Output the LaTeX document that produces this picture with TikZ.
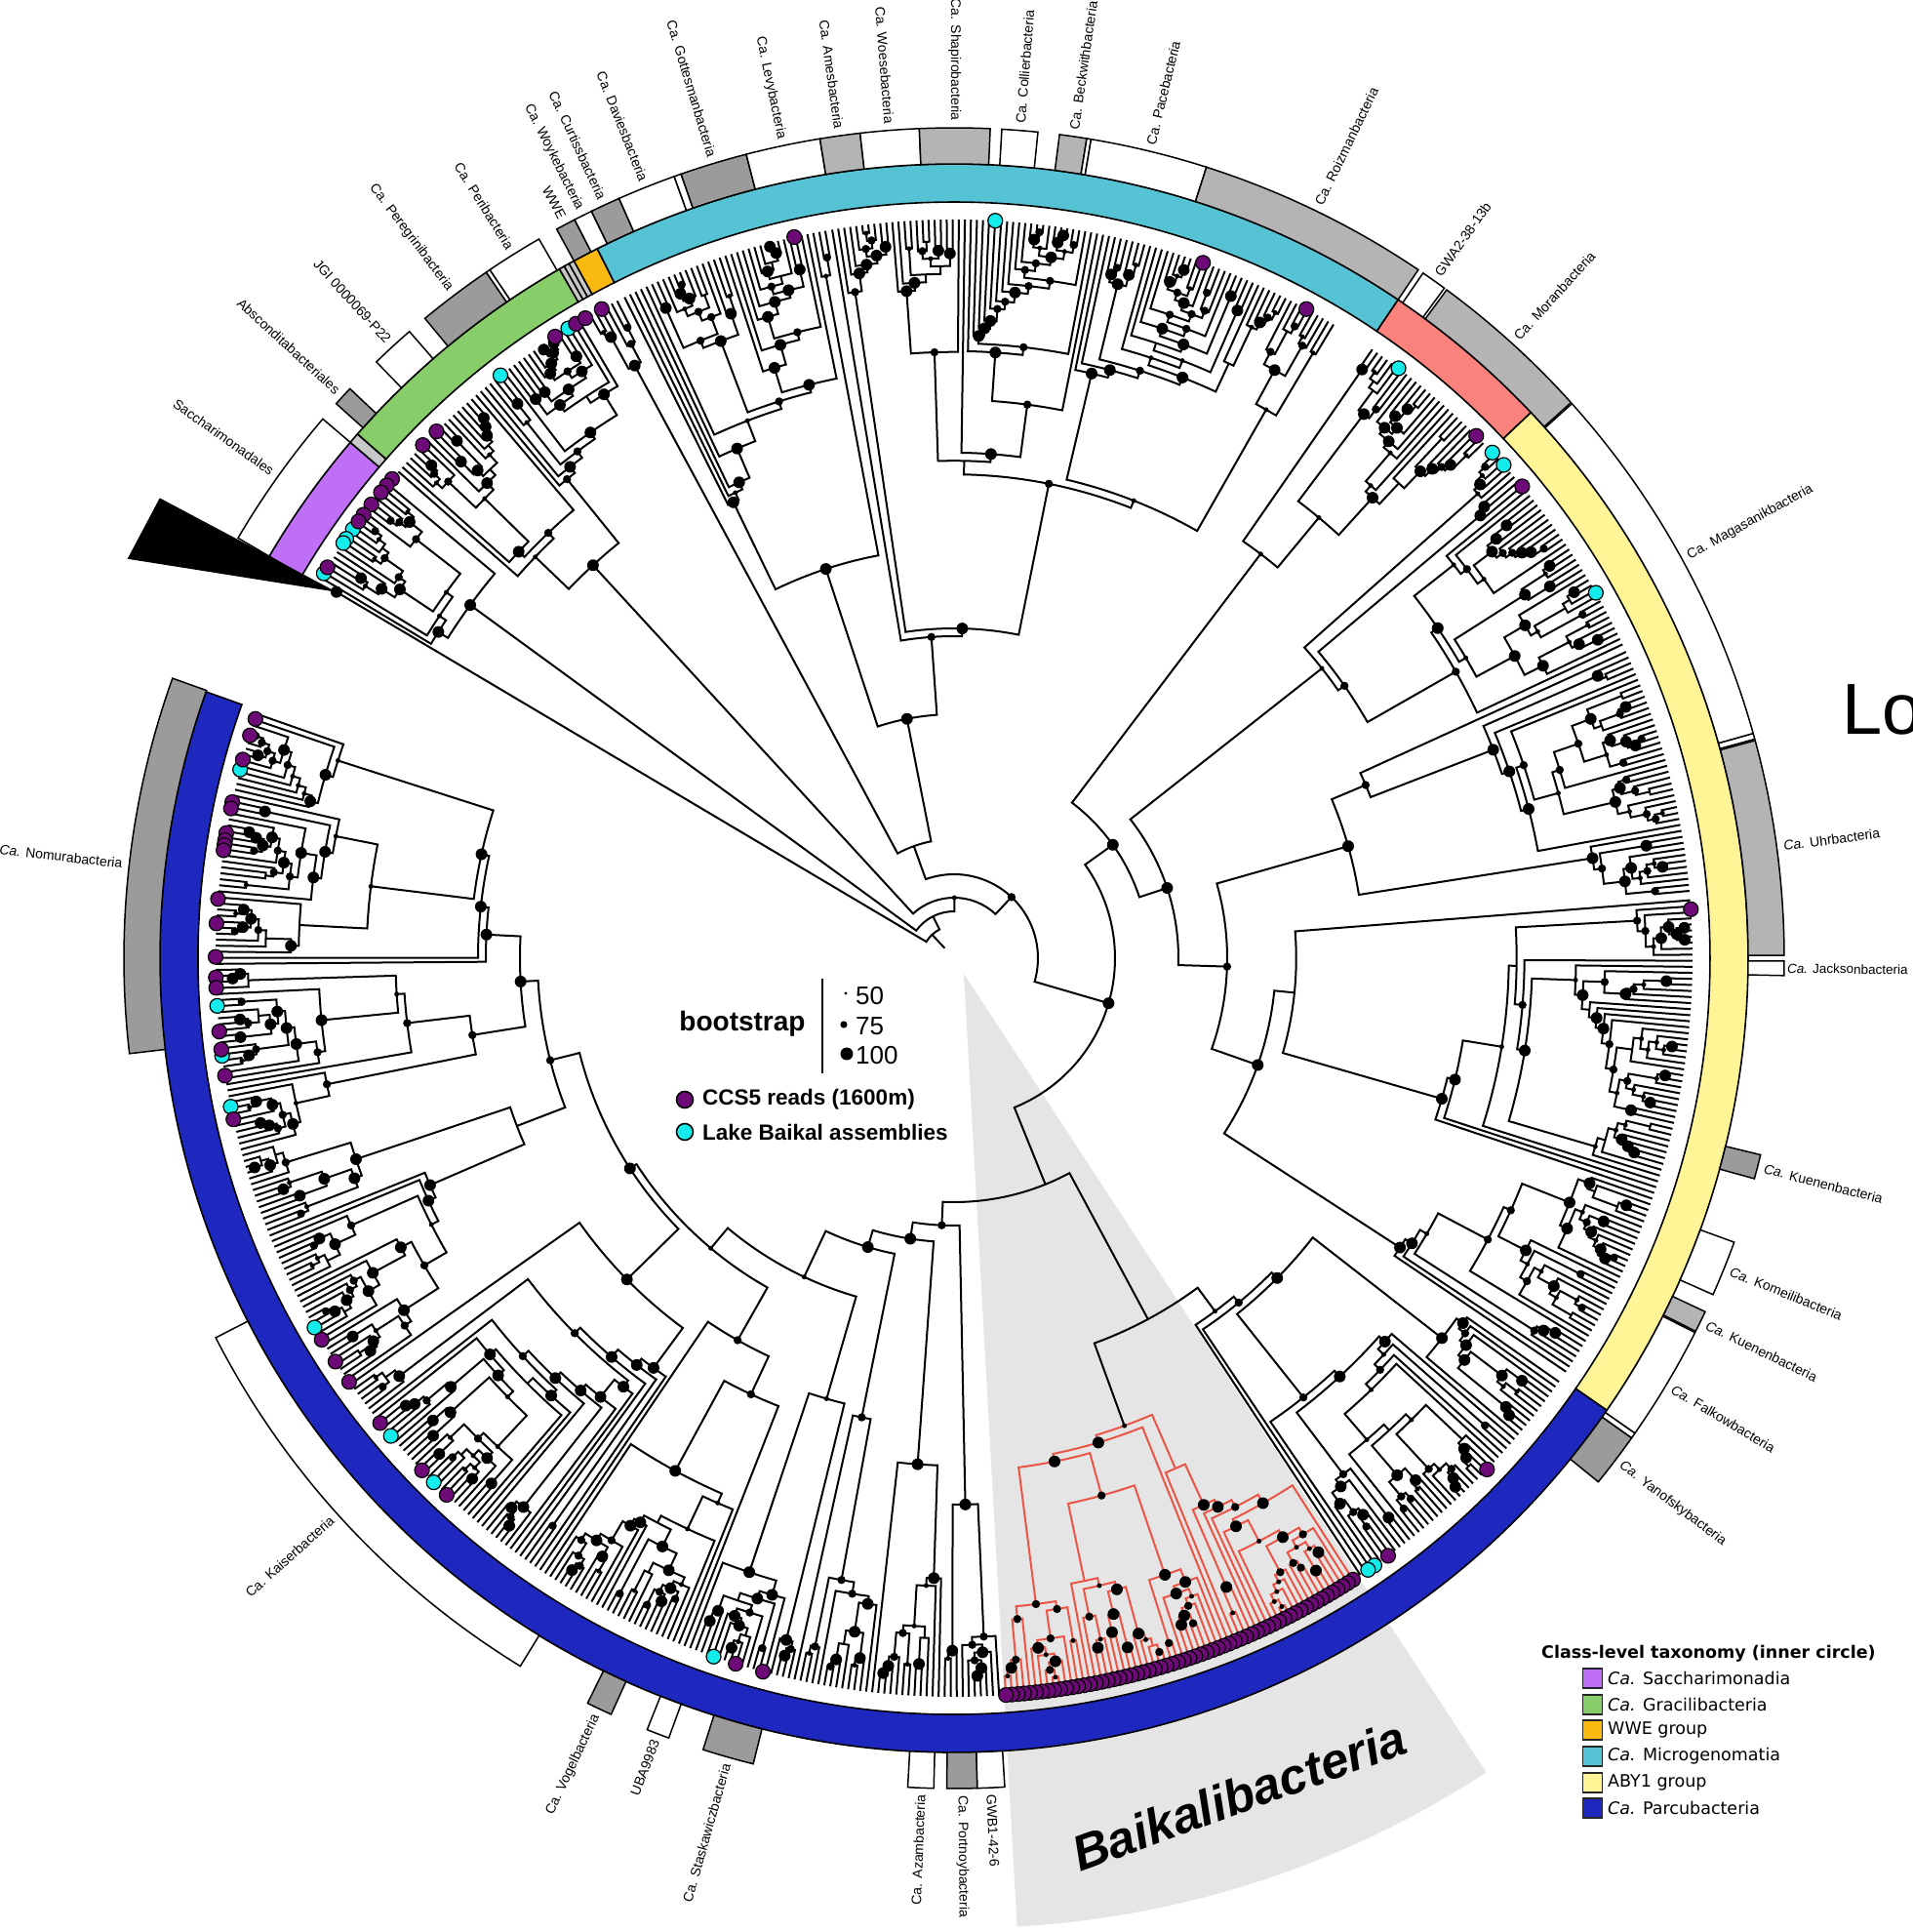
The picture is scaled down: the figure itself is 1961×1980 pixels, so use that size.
\documentclass[tikz,border=0pt]{standalone}
\usepackage{fontspec}
\setmainfont{Liberation Sans}
\newfontfamily\dejavu{DejaVu Sans}
\definecolor{cSac}{RGB}{191,111,245}
\definecolor{cGra}{RGB}{135,205,105}
\definecolor{cWWE}{RGB}{249,185,15}
\definecolor{cMic}{RGB}{85,195,212}
\definecolor{cSal}{RGB}{250,130,125}
\definecolor{cABY}{RGB}{255,245,150}
\definecolor{cPar}{RGB}{30,40,190}
\definecolor{gA}{RGB}{155,155,155}
\definecolor{gB}{RGB}{180,180,180}
\definecolor{gR}{RGB}{200,200,200}
\definecolor{cPur}{RGB}{110,10,120}
\definecolor{cCya}{RGB}{20,235,235}
\definecolor{wedgec}{RGB}{229,229,229}
\definecolor{redbr}{RGB}{235,85,70}
\tikzset{
  br/.style={draw=black,line width=2pt},
  tipc/.style={draw=black,line width=1.2pt},
  lbl/.style={font=\fontsize{14}{16}\selectfont,inner sep=0pt},
  sq/.style={draw=black!85,line width=1.6pt,minimum size=20pt,inner sep=0pt},
  legt/.style={font=\dejavu\fontsize{17.5}{20}\selectfont,inner sep=0pt,anchor=west}
}
\newcommand\Rtip{757}
\newcommand\stp{-0.47}
\protected\def\dotat#1#2#3{\fill (#1:#2pt) circle[radius=#3pt];}
\gdef\dotlist{}
\newcommand\adddot[3]{\ifdim#3pt>0pt \xdef\dotlist{\dotlist\dotat{#1}{#2}{#3}}\fi}
\newcommand\childr[3]{%
  \ifnum#1=1\relax
    \edef#3{\Rtip}%
  \else
    \pgfmathsetmacro#3{max(#2+8,min(\Rtip-14,\Rtip-(12+13*(#1)^0.8)*(0.6+0.8*rnd)))}%
  \fi}
\newcommand\gentree[3]{%
  \begingroup
  \edef\aaa{#1}\edef\nn{#2}\edef\rr{#3}%
  \ifnum\nn=1\relax
    \xdef\gtpos{\aaa}%
  \else
    \pgfmathsetmacro\uu{rnd}%
    \ifnum\nn=2\relax \def\nA{1}%
    \else
      \pgfmathtruncatemacro\nA{\uu<0.33 ? 1 : (\uu<0.5 ? \nn-1 : min(\nn-1,1+floor(rnd*(\nn-1))))}%
    \fi
    \pgfmathtruncatemacro\nB{\nn-\nA}%
    \pgfmathsetmacro\aB{\aaa+\nA*\stp}%
    \childr{\nA}{\rr}\rA
    \childr{\nB}{\rr}\rB
    \gentree{\aaa}{\nA}{\rA}\let\pA\gtpos
    \gentree{\aB}{\nB}{\rB}\let\pB\gtpos
    \draw[br] (\pA:\rA pt) -- (\pA:\rr pt) arc[start angle=\pA,end angle=\pB,radius=\rr pt] -- (\pB:\rB pt);
    \pgfmathsetmacro\pM{(\pA+\pB)/2}%
    \pgfmathsetmacro\uu{rnd}%
    \pgfmathsetmacro\dr{\uu<0.1 ? 0 : (\uu<0.28 ? 2.5 : (\uu<0.52 ? 4.2 : 6.0))}%
    \adddot{\pM}{\rr}{\dr}%
    \xdef\gtpos{\pM}%
  \fi
  \endgroup}
% arc at radius #1 joining children at angles #2 (radius #3) and #4 (radius #5);
% dot radius #6; node position #7 (where the parent stem attaches)
\newcommand\combineP[7]{%
  \begingroup
  \edef\rr{#1}\edef\pa{#2}\edef\ra{#3}\edef\pb{#4}\edef\rb{#5}\edef\pmm{#7}%
  \draw[br] (\pa:\ra pt) -- (\pa:\rr pt) arc[start angle=\pa,end angle=\pb,radius=\rr pt] -- (\pb:\rb pt);
  \adddot{\pmm}{\rr}{#6}%
  \xdef\gtpos{\pmm}%
  \endgroup}
\newcommand\combine[6]{%
  \pgfmathsetmacro\cpos{((#2)+(#4))/2}%
  \combineP{#1}{#2}{#3}{#4}{#5}{#6}{\cpos}}
\newcommand\combineW[6]{%
  \pgfmathsetmacro\cpos{0.62*(#2)+0.38*(#4)}%
  \combineP{#1}{#2}{#3}{#4}{#5}{#6}{\cpos}}
\newcommand\ringseg[3]{\filldraw[fill=#3,draw=black,line width=1.6pt] (#1:775pt) arc[start angle=#1,end angle=#2,radius=775pt] -- (#2:814pt) arc[start angle=#2,end angle=#1,radius=814pt] -- cycle;}
\newcommand\obox[3]{\filldraw[fill=#3,draw=black,line width=1.5pt] (#1:814pt) arc[start angle=#1,end angle=#2,radius=814pt] -- (#2:851pt) arc[start angle=#2,end angle=#1,radius=851pt] -- cycle;}
\newcommand\lblR[3]{\node[lbl,anchor=west,rotate=#2] (#1) at (#2:858pt) {#3};}
\newcommand\lblL[3]{\node[lbl,anchor=east,rotate=#2-180] (#1) at (#2:858pt) {#3};}
\begin{document}
\begin{tikzpicture}[x=1pt,y=1pt]
\path[use as bounding box,fill=white] (-978,-998) rectangle (983,982);
\pgfmathsetseed{11}
% highlight wedge
\fill[wedgec] (10,-16) -- ++(-86.8:978pt) arc[start angle=-86.8,end angle=-56.8,radius=978pt] -- cycle;
% ---- tree ----
\gentree{149.0}{20}{614}\let\pS\gtpos
\gentree{138.8}{40}{547}\let\pGr\gtpos
\gentree{119.5}{6}{690}\let\pW\gtpos
\gentree{116.5}{36}{420}\let\pMa\gtpos
\gentree{99.5}{87}{330}\let\pMb\gtpos
\combine{250}{\pMa}{420}{\pMb}{330}{6.0}\let\pMic\gtpos
\combine{122}{\pW}{690}{\pMic}{250}{0}\let\pWM\gtpos
\gentree{55.5}{25}{520}\let\pSa\gtpos
\gentree{43.0}{39}{480}\let\pAa\gtpos
\gentree{24.5}{42}{420}\let\pAb\gtpos
\gentree{4.5}{83}{330}\let\pAc\gtpos
\combine{280}{\pAb}{420}{\pAc}{330}{4.2}\let\pAbc\gtpos
\combine{230}{\pAa}{480}{\pAbc}{280}{6.0}\let\pAY\gtpos
\combine{200}{\pSa}{520}{\pAY}{230}{6.0}\let\pSaA\gtpos
\gentree{-35.0}{47}{450}\let\pPa\gtpos
\begin{scope}[br/.style={draw=redbr,line width=2pt}]
\gentree{-57.3}{62}{510}\global\let\pPb\gtpos
\end{scope}
\combine{420}{\pPa}{450}{\pPb}{510}{0}\let\pPR\gtpos
% bottom / left part of Parcubacteria: a ladder
\gentree{-86.5}{10}{560}\let\pSone\gtpos
\gentree{-91.2}{12}{520}\let\pStwo\gtpos
\gentree{-96.84}{13}{480}\let\pSthree\gtpos
\gentree{-102.95}{18}{470}\let\pSfour\gtpos
\gentree{-111.41}{28}{450}\let\pSfive\gtpos
\gentree{-124.57}{44}{470}\let\pSsix\gtpos
\gentree{-145.25}{42}{480}\let\pSseven\gtpos
\gentree{-164.99}{31}{500}\let\pSeighta\gtpos
\gentree{-179.56}{43}{480}\let\pSeightb\gtpos
\combine{445}{\pSeighta}{500}{\pSeightb}{480}{6.0}\let\pNeight\gtpos
\combineW{427}{\pSseven}{480}{\pNeight}{445}{4.2}\let\pNseven\gtpos
\combineW{396}{\pSsix}{470}{\pNseven}{427}{6.0}\let\pNsix\gtpos
\combineW{388}{\pSfive}{450}{\pNsix}{396}{2.5}\let\pNfive\gtpos
\combineW{361}{\pSfour}{470}{\pNfive}{388}{2.5}\let\pNfour\gtpos
\combineW{309}{\pSthree}{480}{\pNfour}{361}{6.0}\let\pNthree\gtpos
\combineW{291}{\pStwo}{520}{\pNthree}{309}{6.0}\let\pNtwo\gtpos
\combineW{274}{\pSone}{560}{\pNtwo}{291}{4.2}\let\pNone\gtpos
\combineP{250}{\pPR}{420}{\pNone}{274}{0}{-68}\let\pP\gtpos
\combine{165}{\pSaA}{200}{\pP}{250}{6.0}\let\pXd\gtpos
\combine{86}{\pWM}{122}{\pXd}{165}{4.2}\let\pXc\gtpos
\combine{62}{\pGr}{547}{\pXc}{86}{2.5}\let\pXb\gtpos
\combine{48}{\pS}{614}{\pXb}{62}{0}\let\pXa\gtpos
\combine{33}{149.34}{736}{\pXa}{48}{0}\let\pX\gtpos
\draw[br] (\pX:33pt) -- (\pX:14pt);
% bootstrap dots on top of the branches
\dotlist
% ---- tip circles ----
\foreach \a in {121.5,127.9,144.5,145.4,145.8,148.6,86.8,53.0,43.2,41.9,29.65,-55.3,-55.9,251.0,210.0,220.3,225.2,165.2,183.7,187.6,191.6}
  \filldraw[fill=cCya,tipc] (\a:757pt) circle[radius=7.5pt];
\foreach \a in {102.5,122.7,120.8,119.95,118.5,136.0,134.5,139.55,140.2,140.9,142.1,143.1,143.75,148.05,70.3,61.5,45.0,39.7,3.8,-43.8,-54.0,255.0,252.8,161.1,162.45,164.4,167.8,168.3,170.25,170.8,171.2,171.6,175.4,177.3,179.9,181.5,182.3,185.7,187.1,189.15,192.6,211.1,213.1,215.0,219.0,223.9,226.6}
  \filldraw[fill=cPur,tipc] (\a:757pt) circle[radius=7.5pt];
\foreach \i in {0,...,61}{\pgfmathsetmacro\a{-57.3-0.47*\i}
  \filldraw[fill=cPur,tipc] (\a:757pt) circle[radius=7.5pt];}
% ---- inner ring ----
\ringseg{149.6}{139.5}{cSac}
\ringseg{139.5}{138.7}{gR}
\ringseg{138.7}{119.8}{cGra}
\ringseg{119.8}{119.4}{gR}
\ringseg{119.4}{119.0}{gR}
\ringseg{119.0}{118.6}{gR}
\ringseg{118.6}{116.7}{cWWE}
\ringseg{116.7}{56.0}{cMic}
\ringseg{56.0}{43.4}{cSal}
\ringseg{43.4}{-34.7}{cABY}
\ringseg{-34.7}{-199.6}{cPar}
% ---- outer boxes ----
\obox{149.6}{139.5}{white}
\obox{138.1}{136.7}{gA}
\obox{134.1}{131.0}{white}
\obox{129.6}{124.3}{gA}
\obox{124.3}{124.0}{white}
\obox{124.0}{120.0}{white}
\obox{118.6}{117.2}{gA}
\obox{117.2}{115.9}{white}
\obox{115.9}{113.8}{gA}
\obox{113.8}{109.7}{white}
\obox{109.7}{109.2}{white}
\obox{109.2}{104.5}{gA}
\obox{104.5}{99.3}{white}
\obox{99.3}{96.5}{gB}
\obox{96.5}{92.4}{white}
\obox{92.4}{87.5}{gB}
\obox{86.7}{84.2}{white}
\obox{82.7}{80.8}{gB}
\obox{80.8}{80.5}{white}
\obox{80.5}{72.3}{white}
\obox{72.3}{56.0}{gB}
\obox{55.6}{53.8}{white}
\obox{53.6}{42.0}{gB}
\obox{41.9}{15.7}{white}
\obox{15.7}{15.3}{white}
\obox{15.2}{0.2}{gB}
\obox{-0.2}{-1.2}{white}
\obox{-13.7}{-15.4}{gA}
\obox{-20.0}{-23.9}{white}
\obox{-25.2}{-26.7}{gB}
\obox{-26.8}{-34.9}{white}
\obox{-34.9}{-35.3}{white}
\obox{-35.3}{-39.1}{gA}
\obox{273.5}{271.6}{white}
\obox{271.6}{269.5}{gA}
\obox{268.6}{266.8}{white}
\obox{256.0}{252.4}{gA}
\obox{249.9}{248.3}{white}
\obox{245.6}{243.8}{gA}
\obox{238.5}{207.2}{white}
\obox{186.6}{160.3}{gA}
% collapsed clade
\fill[black] (149.34:736pt) -- (149.92:941pt) -- (154.22:941pt) -- cycle;
\fill (149.34:736pt) circle[radius=6pt];
% ---- labels ----
\lblR{l1}{85.45}{Ca. Collierbacteria}
\lblR{l2}{81.75}{Ca. Beckwithbacteria}
\lblR{l3}{76.4}{Ca. Pacebacteria}
\lblR{l4}{64.2}{Ca. Roizmanbacteria}
\lblR{l5}{54.7}{GWA2-38-13b}
\lblR{l6}{47.8}{Ca. Moranbacteria}
\lblR{l7}{28.7}{Ca. Magasanikbacteria}
\lblR{l8}{7.7}{\textit{Ca.} Uhrbacteria}
\node[lbl,anchor=west,rotate=-0.7,font=\fontsize{13.5}{15}\selectfont] (l9) at (-0.7:854pt) {\textit{Ca.} Jacksonbacteria};
\lblR{l10}{-14.55}{\textit{Ca.} Kuenenbacteria}
\lblR{l11}{-21.95}{\textit{Ca.} Komeilibacteria}
\lblR{l12}{-25.95}{\textit{Ca.} Kuenenbacteria}
\lblR{l13}{-30.9}{\textit{Ca.} Falkowbacteria}
\lblR{l14}{-37.2}{\textit{Ca.} Yanofskybacteria}
\lblR{l15}{-87.45}{GWB1-42-6}
\lblR{l16}{-89.45}{Ca. Portnoybacteria}
\lblL{l17}{267.7}{Ca. Azambacteria}
\lblL{l18}{254.2}{Ca. Staskawiczbacteria}
\lblL{l19}{249.1}{UBA9983}
\lblL{l20}{244.7}{Ca. Vogelbacteria}
\lblL{l21}{222.0}{Ca. Kaiserbacteria}
\lblL{l22}{173.5}{\textit{Ca.} Nomurabacteria}
\lblL{l23}{144.5}{Saccharimonadales}
\lblL{l24}{137.4}{Absconditabacteriales}
\lblL{l25}{132.5}{JGI 0000069-P22}
\lblL{l26}{127.0}{Ca. Peregrinibacteria}
\lblL{l27}{122.0}{Ca. Peribacteria}
\lblL{l28}{117.9}{WWE}
\lblL{l29}{116.55}{Ca. Woykebacteria}
\lblL{l30}{114.85}{Ca. Curtissbacteria}
\lblL{l31}{111.75}{Ca. Daviesbacteria}
\lblL{l32}{106.8}{Ca. Gottesmanbacteria}
\lblL{l33}{101.9}{Ca. Levybacteria}
\lblL{l34}{97.9}{Ca. Amesbacteria}
\lblL{l35}{94.45}{Ca. Woesebacteria}
\lblL{l36}{89.95}{Ca. Shapirobacteria}
% ---- big texts ----
\node[anchor=base west,inner sep=0pt,font=\fontsize{74}{80}\selectfont] (lo) at (910,229) {Lo};
\node[rotate=20,inner sep=0pt,font=\bfseries\itshape\fontsize{51}{56}\selectfont] (baik) at (292,-858) {Baikalibacteria};
% ---- bootstrap legend ----
\node[inner sep=0pt,font=\bfseries\fontsize{28}{30}\selectfont] (bs) at (-217,-67) {bootstrap};
\draw[line width=2.6pt] (-135,-21) coordinate (bl1) -- (-135,-118) coordinate (bl2);
\fill (-111,-36) circle[radius=1.6pt];
\fill (-113,-68) circle[radius=3.6pt];
\fill (-110,-98) circle[radius=6.5pt];
\node[anchor=west,inner sep=0pt,font=\fontsize{26}{28}\selectfont] (b50) at (-101,-39) {50};
\node[anchor=west,inner sep=0pt,font=\fontsize{26}{28}\selectfont] (b75) at (-101,-70) {75};
\node[anchor=west,inner sep=0pt,font=\fontsize{26}{28}\selectfont] (b100) at (-101,-100) {100};
\filldraw[fill=cPur,tipc,line width=1.6pt] (-276,-145) circle[radius=8.5pt];
\node[anchor=west,inner sep=0pt,font=\bfseries\fontsize{22.5}{24}\selectfont] (ccs) at (-258,-145) {CCS5 reads (1600m)};
\filldraw[fill=cCya,tipc,line width=1.6pt] (-276,-178) circle[radius=8.5pt];
\node[anchor=west,inner sep=0pt,font=\bfseries\fontsize{22.5}{24}\selectfont] (lba) at (-258,-178) {Lake Baikal assemblies};
% ---- class legend ----
\node[legt,font=\dejavu\bfseries\fontsize{17.5}{20}\selectfont] (lt) at (602,-713) {Class-level taxonomy (inner circle)};
\node[sq,fill=cSac] (k1) at (654.5,-738) {};
\node[sq,fill=cGra] (k2) at (654.5,-765) {};
\node[sq,fill=cWWE] (k3) at (654.5,-791) {};
\node[sq,fill=cMic] (k4) at (654.5,-818) {};
\node[sq,fill=cABY] (k5) at (654.5,-845) {};
\node[sq,fill=cPar] (k6) at (654.5,-871) {};
\node[legt] (t1) at (670,-738) {\textit{Ca.} Saccharimonadia};
\node[legt] (t2) at (670,-765) {\textit{Ca.} Gracilibacteria};
\node[legt] (t3) at (670,-791) {WWE group};
\node[legt] (t4) at (670,-818) {\textit{Ca.} Microgenomatia};
\node[legt] (t5) at (670,-845) {ABY1 group};
\node[legt] (t6) at (670,-871) {\textit{Ca.} Parcubacteria};
\end{tikzpicture}
\end{document}
